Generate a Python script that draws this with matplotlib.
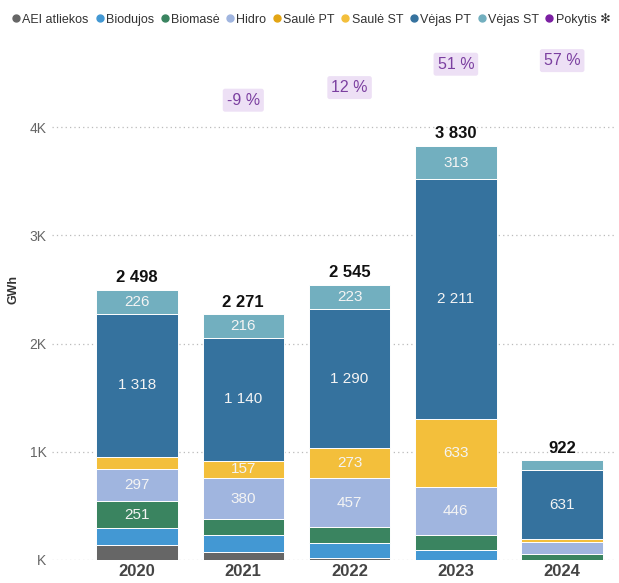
import matplotlib.pyplot as plt
from matplotlib.lines import Line2D
import numpy as np

plt.rcParams['font.family'] = ['Liberation Sans', 'DejaVu Sans']

# duomenys (GWh)
metai = ['2020', '2021', '2022', '2023', '2024']
serijos = ['AEI atliekos', 'Biodujos', 'Biomasė', 'Hidro', 'Saulė PT', 'Saulė ST', 'Vėjas PT', 'Vėjas ST']
spalvos = ['#666666', '#4398d3', '#3a8460', '#a0b5df', '#e3a514', '#f3bf3b', '#35729e', '#72afbf']

aei = [139, 70, 20, 3, 0]
biodujos = [153, 158, 134, 85, 0]
biomase = [251, 150, 148, 139, 55]
hidro = [297, 380, 457, 446, 114]
saule_pt = [0, 0, 0, 0, 0]
saule_st = [114, 157, 273, 633, 28]
vejas_pt = [1318, 1140, 1290, 2211, 631]
vejas_st = [226, 216, 223, 313, 94]
pokytis = [None, -9, 12, 51, 57]

reiksmes = [aei, biodujos, biomase, hidro, saule_pt, saule_st, vejas_pt, vejas_st]
su_etikete = ['Biomasė', 'Hidro', 'Saulė ST', 'Vėjas PT', 'Vėjas ST']


def tarpas(v):
    return f"{v:,}".replace(",", " ")


fig = plt.figure(figsize=(6.19, 5.83), dpi=100)
ax = fig.add_axes([0.084, 0.0395, 0.91, 0.8915])

x = np.arange(len(metai))
apacia = np.zeros(len(metai))
for pav, sp, v in zip(serijos, spalvos, reiksmes):
    v = np.array(v, dtype=float)
    ax.bar(x, v, 0.765, bottom=apacia, color=sp, edgecolor='white', linewidth=0.7, zorder=3)
    if pav in su_etikete:
        for xi, b, h in zip(x, apacia, v):
            if h >= 155:
                ax.text(xi, b + h / 2, tarpas(int(h)), ha='center', va='center',
                        color='#f4f4f4', fontsize=11, zorder=4)
    apacia += v

for xi, s in zip(x, apacia):
    ax.text(xi, s + 40, tarpas(int(s)), ha='center', va='bottom', fontsize=12,
            fontweight='bold', color='#111111', zorder=4)

ax.set_xlim(-0.8, 4.5)
ax.set_ylim(0, 4804)
ax.set_yticks([0, 1000, 2000, 3000, 4000])
ax.set_yticklabels(['K', '1K', '2K', '3K', '4K'])
ax.set_xticks(x)
ax.set_xticklabels(metai, fontsize=12, fontweight='bold', color='#444444')
ax.tick_params(axis='y', length=0, labelsize=10, labelcolor='#666666', pad=4)
ax.tick_params(axis='x', length=0, pad=3)
ax.grid(axis='y', linestyle=(0, (1, 2.5)), color='#bbbbbb', linewidth=0.9, zorder=0)
for s in ax.spines.values():
    s.set_visible(False)
ax.set_ylabel('GWh', fontsize=9, fontweight='bold', color='#333333')
ax.yaxis.set_label_coords(-0.058, 0.52)

# pokytis - antra asis
ax2 = ax.twinx()
ax2.set_ylim(-775.7, 91)
ax2.axis('off')
for xi, p in zip(x, pokytis):
    if p is None:
        continue
    ax2.text(xi, p, f"{p} %", ha='center', va='center', fontsize=11.5, color='#7b3fa0',
             bbox=dict(boxstyle='round,pad=0.25,rounding_size=0.15', fc='#ede0f5', ec='none'))

# legenda
rankenos = [Line2D([], [], marker='o', linestyle='none', color=c, markersize=5) for c in spalvos]
rankenos.append(Line2D([], [], marker='o', linestyle='none', color='#7b1fa2', markersize=5))
fig.legend(rankenos, serijos + ['Pokytis ✻'], loc='upper left', bbox_to_anchor=(0.0, 0.995),
           ncol=9, frameon=False, fontsize=9, handletextpad=0.0, columnspacing=0.35,
           handlelength=1.0, borderpad=0.3, labelcolor='#333333')

fig.savefig('out.png', dpi=100)
